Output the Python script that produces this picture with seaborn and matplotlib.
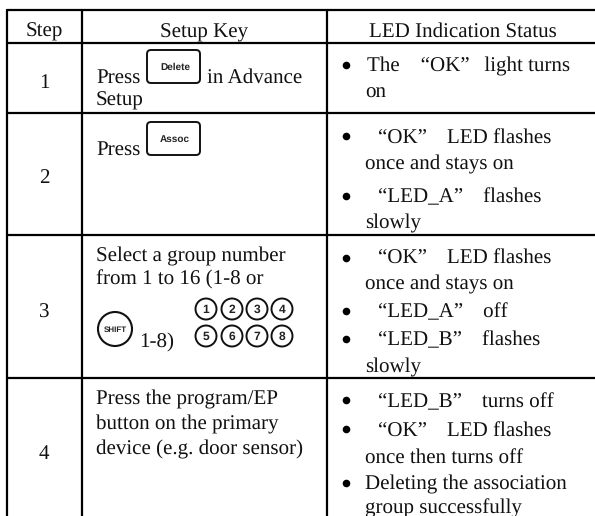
#!/usr/bin/env python3
"""
Association delete steps table, redrawn on a pixel-sized axes.
"""
import matplotlib.pyplot as plt
import seaborn as sns
from matplotlib.patches import Circle, FancyBboxPatch

# table content
headers = ["Step", "Setup Key", "LED Indication Status"]
steps = ["1", "2", "3", "4"]
key_lines = [
    "Press", "in Advance", "Setup",
    "Press",
    "Select a group number", "from 1 to 16 (1-8 or", "1-8)",
    "Press the program/EP", "button on the primary", "device (e.g. door sensor)",
]
led_lines = [
    "The    \u201cOK\u201d  \u2009light turns", "on",
    "\u201cOK\u201d   \u2009LED flashes", "once and stays on",
    "\u201cLED_A\u201d   \u2009flashes", "slowly",
    "\u201cOK\u201d   \u2009LED flashes", "once and stays on",
    "\u201cLED_A\u201d   \u2009off",
    "\u201cLED_B\u201d   \u2009flashes", "slowly",
    "\u201cLED_B\u201d   \u2009turns off",
    "\u201cOK\u201d   \u2009LED flashes", "once then turns off",
    "Deleting the association", "group successfully",
]
key_caps = ["Delete", "Assoc"]
shift_cap = "SHIFT"
digit_caps = ["1", "2", "3", "4", "5", "6", "7", "8"]

# layout, in pixels of the 595x516 picture
W, H = 595, 516
col_rules = [7, 82, 327]
row_rules = [10, 43, 113, 235, 378]
header_x = [44, 204, 463]
header_y = 37
step_y = [88, 183, 318, 459]
key_pos = [(96, 83), (207, 83), (96, 106), (96, 155), (96, 261), (96, 285),
           (139, 348), (96, 404), (96, 429), (96, 454)]
led_pos = [(367, 71), (365, 98), (378, 143), (365, 169), (378, 202), (365, 228),
           (378, 263), (365, 289), (378, 317), (378, 345), (365, 372),
           (378, 407), (378, 436), (365, 463), (365, 489), (365, 513)]
bullet_x = 346
bullet_y = [65, 136, 196, 258, 311, 339, 400, 429, 483]
cap_boxes = [(147, 50), (147, 122)]
digit_xy = [(206, 309), (232, 309), (257, 309), (282, 309),
            (206, 336), (232, 336), (257, 336), (282, 336)]

SERIF = "Liberation Serif"
SANS = "Liberation Sans"
FS = 15.2
RULE = 1.6

sns.set_theme(style="white")
plt.rcParams["font.family"] = [SERIF, "DejaVu Sans"]
plt.rcParams["text.hinting"] = "none"
plt.rcParams["text.hinting_factor"] = 1

fig = plt.figure(figsize=(W / 100, H / 100), dpi=100)
ax = fig.add_axes([0, 0, 1, 1])
ax.set_xlim(0, W)
ax.set_ylim(H, 0)
ax.axis("off")

# table rules, open on the right and at the bottom
for y in row_rules:
    sns.lineplot(x=[col_rules[0], W], y=[y, y], color="black", linewidth=RULE, ax=ax, legend=False)
for x in col_rules:
    sns.lineplot(x=[x, x], y=[row_rules[0], H], color="black", linewidth=RULE, ax=ax,
                 legend=False, orient="y")

for label, x in zip(headers, header_x):
    ax.text(x, header_y, label, ha="center", va="baseline", fontsize=FS, color="#111111")
for label, y in zip(steps, step_y):
    ax.text(44, y, label, ha="center", va="baseline", fontsize=FS, color="#111111")
for label, (x, y) in zip(key_lines, key_pos):
    ax.text(x, y, label, ha="left", va="baseline", fontsize=FS, color="#111111")
for label, (x, y) in zip(led_lines, led_pos):
    ax.text(x, y, label, ha="left", va="baseline", fontsize=FS, color="#111111")

sns.scatterplot(x=[bullet_x] * len(bullet_y), y=bullet_y, color="black", s=30,
                linewidth=0, ax=ax, legend=False)

# keypad icons
for label, (x, y) in zip(key_caps, cap_boxes):
    ax.add_patch(FancyBboxPatch((x + 3, y + 3), 47, 27, boxstyle="round,pad=3,rounding_size=4",
                                fc="white", ec="#111111", lw=1.4))
    ax.text(x + 28, y + 17, label, ha="center", va="center", fontsize=7,
            family=SANS, fontweight="bold", color="#222222")

ax.add_patch(Circle((115, 329), 17, fc="white", ec="#111111", lw=1.5))
ax.text(115, 329.5, shift_cap, ha="center", va="center", fontsize=5.8,
        family=SANS, fontweight="bold", color="#222222")

for label, (x, y) in zip(digit_caps, digit_xy):
    ax.add_patch(Circle((x, y), 10.5, fc="white", ec="#111111", lw=1.4))
    ax.text(x, y + 0.5, label, ha="center", va="center", fontsize=8.5,
            family=SANS, fontweight="bold", color="#222222")

ax.set_xlim(0, W)
ax.set_ylim(H, 0)
ax.set_xlabel("")
ax.set_ylabel("")
fig.savefig("out.png", dpi=100)
